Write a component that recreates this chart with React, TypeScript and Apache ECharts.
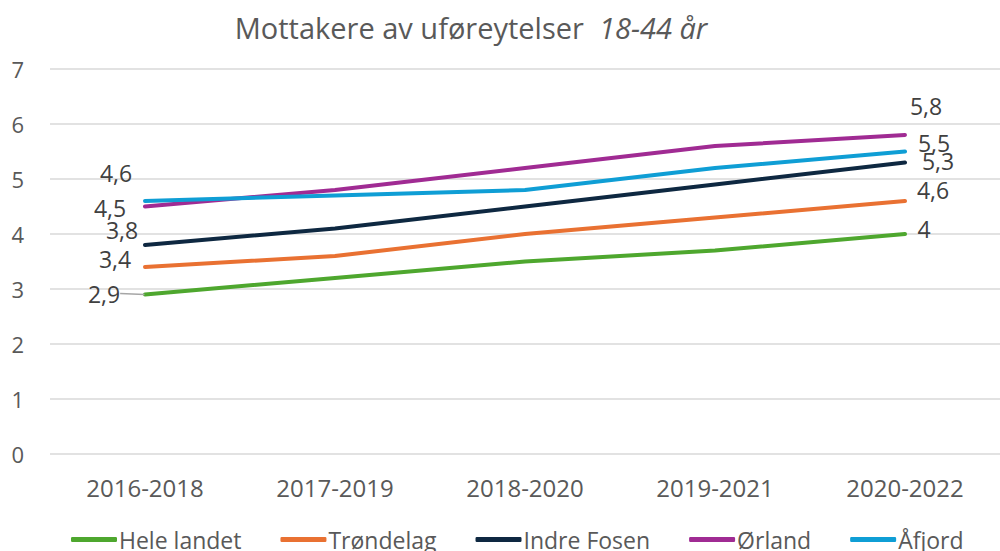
import React, { useEffect, useRef } from "react";
import * as echarts from "echarts";

const categories = ["2016-2018", "2017-2019", "2018-2020", "2019-2021", "2020-2022"];
const seriesNames = ["Hele landet", "Trøndelag", "Indre Fosen", "Ørland", "Åfjord"];
const heleLandet = [2.9, 3.2, 3.5, 3.7, 4.0];
const trondelag = [3.4, 3.6, 4.0, 4.3, 4.6];
const indreFosen = [3.8, 4.1, 4.5, 4.9, 5.3];
const orland = [4.5, 4.8, 5.2, 5.6, 5.8];
const afjord = [4.6, 4.7, 4.8, 5.2, 5.5];
const yTicks = [0, 1, 2, 3, 4, 5, 6, 7];

const colors = ["#4EA72E", "#E97132", "#0E2841", "#A02B93", "#0F9ED5"];
// label offsets [first point], [last point]
const labelOffsets: number[][][] = [
  [[-41, -1], [19, -5]],
  [[-30, -8], [28, -11]],
  [[-23, -15], [33, -2]],
  [[-35, 1], [21, -29]],
  [[-29, -28], [29, -9]],
];

const FONT = "'Open Sans', sans-serif";

export default function App() {
  const ref = useRef<HTMLDivElement>(null);
  useEffect(() => {
    document.body.style.margin = "0";
    const chart = echarts.init(ref.current!, null, { renderer: "svg" });
    const all = [heleLandet, trondelag, indreFosen, orland, afjord];
    const fmt = (v: number) => String(v).replace(".", ",");
    const series = all.map((vals, si) => {
      const withLeader = si === 0;
      const n = vals.length;
      return {
        name: seriesNames[si],
        type: "line",
        data: vals.map((v, i) => {
          const last = i === n - 1;
          const show = i === 0 || last;
          const off = show && !withLeader ? labelOffsets[si][last ? 1 : 0] : [0, 0];
          const item: any = {
            value: v,
            label: { show, position: "inside", offset: off },
          };
          if (withLeader && i === 0) {
            item.labelLine = { show: true, lineStyle: { color: "#a6a6a6", width: 1.5 } };
          }
          return item;
        }),
        labelLayout: withLeader
          ? (p: any) => {
              if (p.dataIndex === 0) return { dx: labelOffsets[0][0][0], dy: labelOffsets[0][0][1] };
              if (p.dataIndex === n - 1) return { dx: labelOffsets[0][1][0], dy: labelOffsets[0][1][1] };
              return {};
            }
          : undefined,
        symbol: "circle",
        symbolSize: 1,
        itemStyle: { color: "rgba(0,0,0,0)", borderWidth: 0 },
        lineStyle: { color: colors[si], width: 4, cap: "round" },
        label: {
          color: "#404040",
          fontSize: 23,
          fontFamily: FONT,
          align: "center",
          verticalAlign: "middle",
          formatter: (p: any) => fmt(p.value),
        },
        emphasis: { disabled: true },
        z: 2 + si,
      };
    });

    chart.setOption({
      animation: false,
      color: colors,
      title: {
        text: "{a|Mottakere av uføreytelser  }{b|18-44 år}",
        left: 466,
        top: 8,
        textAlign: "center",
        textStyle: {
          rich: {
            a: { fontSize: 29, color: "#595959", fontFamily: FONT, fontWeight: "normal" },
            b: { fontSize: 29, color: "#595959", fontFamily: FONT, fontStyle: "italic", fontWeight: "normal" },
          },
        },
      },
      legend: {
        data: seriesNames.map((nm, i) => ({
          name: nm,
          icon: "roundRect",
          itemStyle: { color: colors[i], opacity: 1 },
        })),
        left: 66,
        top: 523,
        itemWidth: 46,
        itemHeight: 5,
        itemGap: 39,
        textStyle: { fontSize: 23, color: "#595959", fontFamily: FONT, padding: [0, 0, 0, -3] },
      },
      grid: { left: 50, right: -5, top: 69, bottom: 97, containLabel: false },
      xAxis: {
        type: "category",
        data: categories,
        boundaryGap: true,
        axisLine: { show: false },
        axisTick: { show: false },
        axisLabel: { fontSize: 24, color: "#595959", fontFamily: FONT, margin: 21 },
      },
      yAxis: {
        type: "value",
        min: yTicks[0],
        max: yTicks[yTicks.length - 1],
        interval: 1,
        axisLine: { show: false },
        axisTick: { show: false },
        axisLabel: { fontSize: 22, color: "#595959", fontFamily: FONT, margin: 26 },
        splitLine: { lineStyle: { color: "#d9d9d9", width: 1.5 } },
      },
      series,
    });
    return () => chart.dispose();
  }, []);
  return <div ref={ref} style={{ width: 1000, height: 551 }} />;
}
